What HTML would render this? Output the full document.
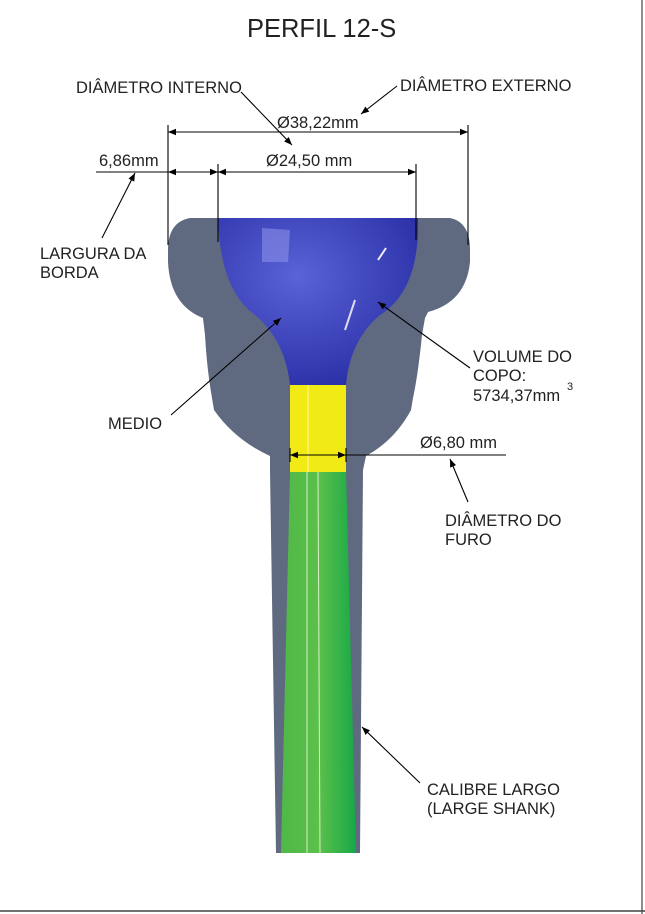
<!DOCTYPE html>
<html><head><meta charset="utf-8"><style>
html,body{margin:0;padding:0;background:#fff}
svg{display:block}
text{font-family:"Liberation Sans",Arial,sans-serif;fill:#222;font-size:16.5px}
</style></head><body>
<svg width="645" height="914" viewBox="0 0 645 914" xmlns="http://www.w3.org/2000/svg">
<defs>
<marker id="a" viewBox="0 0 10 10" refX="10" refY="5" markerWidth="13" markerHeight="8" markerUnits="userSpaceOnUse" orient="auto-start-reverse"><path d="M0,1 L10,5 L0,9 Z" fill="#000"/></marker>
<linearGradient id="g" x1="0" x2="1"><stop offset="0" stop-color="#4fb848"/><stop offset="0.5" stop-color="#5cc04a"/><stop offset="1" stop-color="#17a848"/></linearGradient>
<radialGradient id="b" cx="0.4" cy="0.35" r="0.7"><stop offset="0" stop-color="#5a63d8"/><stop offset="1" stop-color="#2a2fa6"/></radialGradient>
</defs>
<line x1="642" y1="0" x2="642" y2="914" stroke="#444" stroke-width="1.2"/>
<line x1="0" y1="911" x2="645" y2="911" stroke="#444" stroke-width="1.5"/>
<text x="247" y="37" style="font-size:25.5px">PERFIL 12-S</text>

<path d="M190,218 L450,218 Q470,222 470,250 L470,262 Q466,302 428,312 L425,318 L422,335 Q418,375 413,398 L411,410 Q395,440 366,456 L363,470 L360,853 L276,853 L270,470 L270,456 Q235,440 214,410 L212,398 Q207,370 205,335 L203,318 Q170,305 168,262 L168,250 Q168,222 190,218 Z" fill="#5f6a80"/>
<path d="M218,218 L418,218 Q420,290 380,315 Q350,340 346,385 L290,385 Q285,340 255,315 Q220,290 218,218 Z" fill="url(#b)"/>
<path d="M262,228 L290,230 L288,262 L262,262 Z" fill="#8a90e6" opacity="0.6"/>
<path d="M345,330 L355,300" stroke="#dde" stroke-width="2"/>
<path d="M378,260 L386,248" stroke="#eef" stroke-width="2"/>
<rect x="290" y="385" width="56" height="87" fill="#f2ea14"/>
<line x1="308" y1="385" x2="308" y2="472" stroke="#fff8a0" stroke-width="1"/>
<path d="M290,472 L346,472 L356,853 L281,853 Z" fill="url(#g)"/>
<line x1="307" y1="472" x2="307" y2="853" stroke="#d8f0c8" stroke-width="1"/>
<line x1="318" y1="472" x2="320" y2="853" stroke="#d8f0c8" stroke-width="1"/>

<g stroke="#000" stroke-width="1.1" fill="none">
<line x1="168" y1="125" x2="168" y2="245"/>
<line x1="468" y1="125" x2="468" y2="245"/>
<line x1="218" y1="164" x2="218" y2="242"/>
<line x1="416" y1="164" x2="416" y2="240"/>
<line x1="168" y1="132" x2="468" y2="132" marker-start="url(#a)" marker-end="url(#a)"/>
<line x1="218" y1="172" x2="416" y2="172" marker-start="url(#a)" marker-end="url(#a)"/>
<line x1="96" y1="172" x2="168" y2="172"/>
<line x1="168" y1="172" x2="218" y2="172" marker-start="url(#a)" marker-end="url(#a)"/>
<line x1="290" y1="455" x2="346" y2="455" marker-start="url(#a)" marker-end="url(#a)"/>
<line x1="346" y1="455" x2="506" y2="455"/>
<line x1="290" y1="448" x2="290" y2="462"/>
<line x1="346" y1="448" x2="346" y2="462"/>
<line x1="241" y1="92" x2="292" y2="145" marker-end="url(#a)"/>
<line x1="397" y1="86" x2="361" y2="114" marker-end="url(#a)"/>
<line x1="102" y1="238" x2="135" y2="173" marker-end="url(#a)"/>
<line x1="171" y1="415" x2="281" y2="318" marker-end="url(#a)"/>
<line x1="470" y1="368" x2="378" y2="302" marker-end="url(#a)"/>
<line x1="468" y1="502" x2="450" y2="459" marker-end="url(#a)"/>
<line x1="420" y1="783" x2="362" y2="727" marker-end="url(#a)"/>
</g>

<text x="76" y="93">DIÂMETRO INTERNO</text>
<text x="400" y="91">DIÂMETRO EXTERNO</text>
<text x="277" y="128">Ø38,22mm</text>
<text x="266" y="166">Ø24,50 mm</text>
<text x="99" y="166">6,86mm</text>
<text x="40" y="259">LARGURA DA</text>
<text x="40" y="278">BORDA</text>
<text x="108" y="429">MEDIO</text>
<text x="473" y="362">VOLUME DO</text>
<text x="473" y="381">COPO:</text>
<text x="473" y="401">5734,37mm</text>
<text x="567" y="390" style="font-size:11px">3</text>
<text x="420" y="448">Ø6,80 mm</text>
<text x="445" y="526">DIÂMETRO DO</text>
<text x="445" y="545">FURO</text>
<text x="427" y="795">CALIBRE LARGO</text>
<text x="427" y="814">(LARGE SHANK)</text>
</svg>
</body></html>
